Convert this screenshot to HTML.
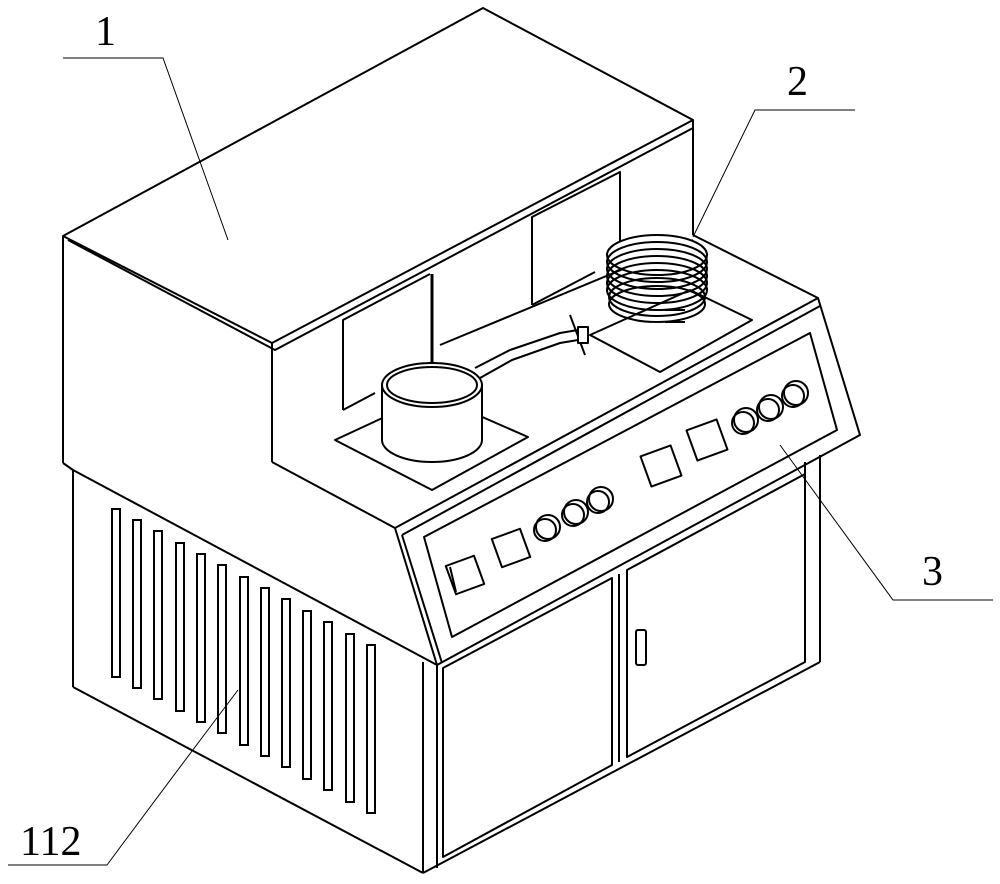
<!DOCTYPE html>
<html><head><meta charset="utf-8"><style>
html,body{margin:0;padding:0;background:#fff;}
svg{display:block;}
text{font-family:"Liberation Serif",serif;fill:#000;}
</style></head><body>
<svg width="1000" height="884" viewBox="0 0 1000 884" xmlns="http://www.w3.org/2000/svg">
<g fill="none" stroke="#000" stroke-width="2" stroke-linejoin="round">
<!-- upper box -->
<polygon points="63,236 483,8 693,120 272,343"/>
<polyline points="68,240 275,350 693,128"/>
<line x1="63" y1="236" x2="63" y2="463"/>
<line x1="272" y1="343" x2="272" y2="462"/>
<line x1="693" y1="120" x2="693" y2="235"/>
<line x1="63" y1="463" x2="73" y2="470"/>
<!-- windows -->
<polyline points="343,410 343,320 430,274"/>
<polyline points="343,410 375,393"/>
<line x1="432" y1="274" x2="432" y2="365" stroke-width="3"/>
<polyline points="532,305 532,217 620,172 620,255"/>
<line x1="532" y1="305" x2="595" y2="272"/>
<!-- counter -->
<polyline points="272,462 395,528"/>
<polyline points="693,235 818,298"/>
<line x1="440" y1="345" x2="693" y2="240"/>
<!-- pot plate -->
<polygon points="335,440 432,490 528,437 432,395"/>
<path d="M382,385 V440 A50,22 0 0 0 482,440 V385 Z" fill="#fff"/>
<ellipse cx="432" cy="385" rx="50" ry="22" fill="#fff"/>
<ellipse cx="432" cy="385" rx="45" ry="18"/>
<!-- arm -->
<polyline points="475,368 510,350 560,333 578,330"/>
<polyline points="480,378 512,360 560,343 578,340"/>
<line x1="570" y1="315" x2="585" y2="355"/>
<rect x="578" y="327" width="10" height="16" fill="#fff"/>
<!-- coil plate -->
<polygon points="590,335 660,372 752,320 690,290"/>
</g>
<!-- coil -->
<g fill="none" stroke="#000" stroke-width="2">
<ellipse cx="657" cy="255" rx="50" ry="20" fill="#fff"/>
<ellipse cx="657" cy="262" rx="50" ry="20"/>
<ellipse cx="657" cy="269" rx="50" ry="20"/>
<ellipse cx="657" cy="276" rx="50" ry="20"/>
<ellipse cx="657" cy="283" rx="50" ry="20"/>
<ellipse cx="657" cy="290" rx="50" ry="20"/>
<ellipse cx="657" cy="297" rx="48" ry="19"/>
<ellipse cx="657" cy="304" rx="48" ry="18"/>
<line x1="665" y1="310" x2="685" y2="310"/>
<line x1="665" y1="322" x2="685" y2="322"/>
</g>
<g fill="none" stroke="#000" stroke-width="2" stroke-linejoin="round">
<!-- control panel -->
<polygon points="395,528 818,298 860,435 437,665"/>
<polyline points="402,535 820,306"/>
<line x1="402" y1="535" x2="442" y2="663"/>
<polygon points="424,537 810,333 837,430 452,637"/>
<!-- buttons left -->
<rect x="450" y="560" width="30" height="30" transform="rotate(-20 465 575)"/>
<line x1="450" y1="567" x2="456" y2="592"/>
<rect x="496" y="533" width="30" height="30" transform="rotate(-20 511 548)"/>
<circle cx="548" cy="527" r="12"/><circle cx="576" cy="512" r="12"/><circle cx="601" cy="499" r="12"/>
<circle cx="545" cy="530" r="11"/><circle cx="573" cy="515" r="11"/><circle cx="598" cy="502" r="11"/>
<!-- buttons right -->
<rect x="645" y="450" width="32" height="32" transform="rotate(-20 661 466)"/>
<rect x="691" y="424" width="32" height="32" transform="rotate(-20 707 440)"/>
<circle cx="746" cy="420" r="12"/><circle cx="771" cy="407" r="12"/><circle cx="796" cy="393" r="12"/>
<circle cx="743" cy="423" r="11"/><circle cx="768" cy="410" r="11"/><circle cx="793" cy="396" r="11"/>
<!-- lower left face -->
<line x1="73" y1="470" x2="73" y2="687"/>
<line x1="73" y1="470" x2="437" y2="665"/>
<line x1="73" y1="687" x2="423" y2="873"/>
<line x1="423" y1="662" x2="423" y2="873"/>
<!-- lower front -->
<line x1="437" y1="665" x2="437" y2="868"/>
<line x1="423" y1="873" x2="820" y2="662"/>
<line x1="820" y1="455" x2="820" y2="662"/>
<line x1="805" y1="462" x2="805" y2="660"/>
<polygon points="443,668 612,578 612,765 443,857"/>
<polygon points="627,570 805,474 805,662 627,757"/>
<line x1="619" y1="574" x2="619" y2="762"/>
<rect x="636" y="630" width="10" height="35" rx="2"/>
</g>
<!-- vents -->
<g fill="none" stroke="#000" stroke-width="2">
<rect x="112" y="509" width="8" height="168"/>
<rect x="133" y="520" width="8" height="168"/>
<rect x="154" y="531" width="8" height="168"/>
<rect x="176" y="543" width="8" height="168"/>
<rect x="197" y="554" width="8" height="168"/>
<rect x="218" y="565" width="8" height="168"/>
<rect x="240" y="577" width="8" height="168"/>
<rect x="261" y="588" width="8" height="168"/>
<rect x="282" y="599" width="8" height="168"/>
<rect x="303" y="611" width="8" height="168"/>
<rect x="324" y="622" width="8" height="168"/>
<rect x="346" y="634" width="8" height="168"/>
<rect x="367" y="645" width="8" height="168"/>
</g>
<!-- leaders -->
<g fill="none" stroke="#000" stroke-width="1">
<polyline points="63,58 163,58 228,240"/>
<polyline points="855,110 755,110 693,237"/>
<polyline points="993,600 893,600 780,445"/>
<path d="M8,865 H107 Q170,780 238,690"/>
</g>
<text x="95" y="45" font-size="42">1</text>
<text x="787" y="95" font-size="42">2</text>
<text x="922" y="585" font-size="42">3</text>
<text x="20" y="855" font-size="42">112</text>
</svg>
</body></html>
